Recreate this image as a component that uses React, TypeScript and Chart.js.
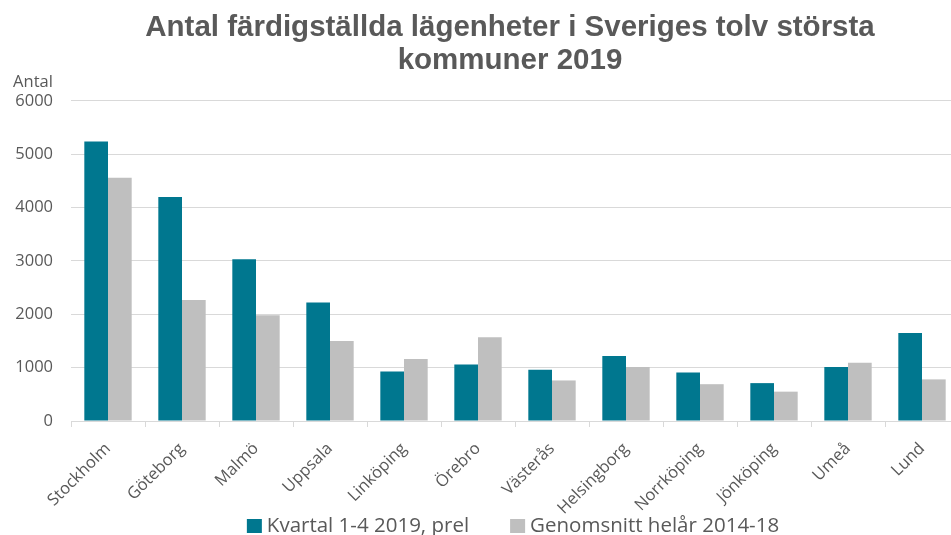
import React, { useEffect, useRef } from "react";
import { Chart, registerables } from "chart.js";

Chart.register(...registerables);

const categories = [
  "Stockholm", "Göteborg", "Malmö", "Uppsala", "Linköping", "Örebro",
  "Västerås", "Helsingborg", "Norrköping", "Jönköping", "Umeå", "Lund",
];
const kvartal2019 = [5240, 4200, 3030, 2220, 930, 1060, 960, 1220, 910, 710, 1010, 1650];
const snitt2014to18 = [4560, 2270, 1980, 1500, 1160, 1570, 760, 1010, 690, 550, 1090, 780];
const seriesLabels = ["Kvartal 1-4 2019, prel", "Genomsnitt helår 2014-18"];
const seriesColors = ["#00778F", "#BFBFBF"];
const titleLines = ["Antal färdigställda lägenheter i Sveriges tolv största", "kommuner 2019"];
const yAxisLabel = "Antal";
const yMin = 0;
const yMax = 6000;
const yStep = 1000;

const TEXT = "#595959";
const GRID = "#D9D9D9";
const FONT = "'Open Sans', sans-serif";

const extrasPlugin = {
  id: "extras",
  afterDraw(chart: any) {
    const ctx = chart.ctx;
    const area = chart.chartArea;
    ctx.save();
    // y-axis unit label
    ctx.fillStyle = TEXT;
    ctx.font = `16.5px ${FONT}`;
    ctx.textAlign = "center";
    ctx.textBaseline = "alphabetic";
    ctx.fillText(yAxisLabel, area.left - 38, area.top - 14);

    // legend
    ctx.font = `20.5px ${FONT}`;
    const boxW = 15;
    const boxH = 14;
    const gapText = 5;
    const gapItem = 41;
    const items = chart.data.datasets.map((d: any) => ({
      text: d.label,
      color: d.backgroundColor,
      w: boxW + gapText + ctx.measureText(d.label).width,
    }));
    const total = items.reduce((s: number, it: any) => s + it.w, 0) + gapItem * (items.length - 1);
    let x = chart.width / 2 - total / 2 + 3;
    const baseline = 532;
    ctx.textAlign = "left";
    items.forEach((it: any) => {
      ctx.fillStyle = it.color;
      ctx.fillRect(x, baseline - 13, boxW, boxH);
      ctx.fillStyle = TEXT;
      ctx.fillText(it.text, x + boxW + gapText, baseline);
      x += it.w + gapItem;
    });
    ctx.restore();
  },
};

export default function App() {
  const ref = useRef<HTMLCanvasElement | null>(null);

  useEffect(() => {
    if (!ref.current) return;
    const chart = new Chart(ref.current, {
      type: "bar",
      data: {
        labels: categories,
        datasets: [
          {
            label: seriesLabels[0],
            data: kvartal2019,
            backgroundColor: seriesColors[0],
            barPercentage: 1,
            categoryPercentage: 0.64,
          },
          {
            label: seriesLabels[1],
            data: snitt2014to18,
            backgroundColor: seriesColors[1],
            barPercentage: 1,
            categoryPercentage: 0.64,
          },
        ],
      },
      options: {
        animation: false,
        responsive: true,
        maintainAspectRatio: false,
        layout: { padding: 0 },
        plugins: {
          legend: { display: false },
          tooltip: { enabled: false },
          title: {
            display: true,
            text: titleLines,
            color: TEXT,
            font: { family: "'Liberation Sans', Arial, sans-serif", size: 29.5, weight: "bold", lineHeight: 1.1 },
            padding: { top: 12, bottom: 24 },
          },
        },
        scales: {
          x: {
            grid: {
              display: true,
              drawOnChartArea: false,
              drawTicks: true,
              tickLength: 6,
              color: GRID,
              offset: true,
            },
            border: { display: true, color: GRID, width: 1 },
            ticks: {
              minRotation: 45,
              maxRotation: 45,
              color: TEXT,
              font: { family: FONT, size: 16.5 },
              padding: 12,
            },
            afterFit: (s: any) => {
              s.height = 114;
            },
          },
          y: {
            min: yMin,
            max: yMax,
            ticks: {
              stepSize: yStep,
              color: TEXT,
              font: { family: FONT, size: 16.5 },
              padding: 18,
              callback: (v: any) => String(v),
            },
            grid: { color: GRID, drawTicks: false, lineWidth: 1 },
            border: { display: false },
            afterFit: (s: any) => {
              s.width = 71;
            },
          },
          yRight: {
            type: "linear",
            position: "right",
            display: true,
            grid: { display: false },
            ticks: { display: false },
            border: { display: false },
            afterFit: (s: any) => {
              s.width = 61;
            },
          },
        },
      },
      plugins: [extrasPlugin],
    } as any);
    return () => chart.destroy();
  }, []);

  return (
    <div
      style={{
        position: "fixed",
        left: 0,
        top: 0,
        width: 951,
        height: 535,
        overflow: "hidden",
        background: "#fff",
      }}
    >
      <div style={{ position: "relative", width: 1020, height: 535 }}>
        <canvas ref={ref} />
      </div>
    </div>
  );
}
